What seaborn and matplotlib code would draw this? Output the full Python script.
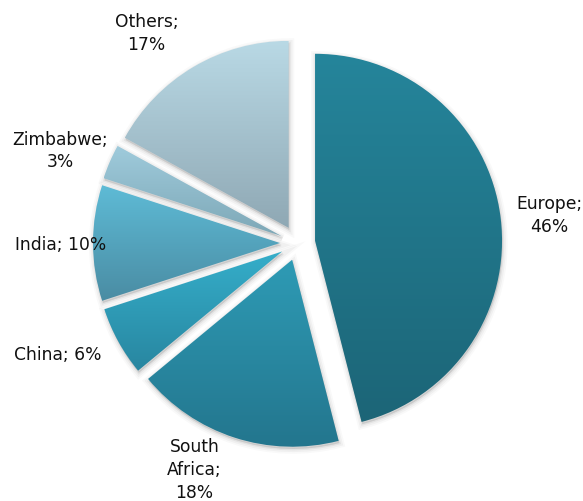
import numpy as np
import matplotlib
matplotlib.use("Agg")
import matplotlib.pyplot as plt
import matplotlib.colors as mcolors
from matplotlib.patches import Wedge
import seaborn as sns

# Destination shares (%)
regions = ["Europe", "South Africa", "China", "India", "Zimbabwe", "Others"]
shares = [46, 18, 6, 10, 3, 17]
label_texts = ["Europe;\n46%", "South\nAfrica;\n18%", "China; 6%", "India; 10%",
               "Zimbabwe;\n3%", "Others;\n17%"]

# Vertical gradient (top, bottom) for each slice
top_colors = ["#25859b", "#2e9bb5", "#35aeca", "#5ebbd6", "#9fcbdc", "#b9d9e5"]
bottom_colors = ["#1c6577", "#23758d", "#2886a0", "#4a8ca3", "#7ea8b7", "#8fa8b4"]

# Label anchor points (data units, pie radius = 1)
label_xy = [(1.345, 0.145), (-0.552, -1.215), (-1.282, -0.600),
            (-1.268, -0.012), (-1.268, 0.492), (-0.808, 1.118)]

sns.set_theme(style="white")
plt.rcParams["font.family"] = ["DejaVu Sans"]

fig = plt.figure(figsize=(5.83, 5.01), dpi=100)
ax = fig.add_axes([0, 0, 1, 1])
ax.set_axis_off()

explode = [0.094] * len(shares)
wedges, _ = ax.pie(shares, explode=explode, startangle=90, counterclock=False,
                   radius=1.0, wedgeprops=dict(facecolor="none", edgecolor="none"))

for w, c_top, c_bot in zip(wedges, top_colors, bottom_colors):
    cx, cy = w.center
    # soft drop shadow under the slice
    for lw, a in [(7, 0.025), (4.5, 0.035), (2, 0.05)]:
        sh = Wedge((cx + 0.004, cy - 0.012), w.r, w.theta1, w.theta2,
                   facecolor=(0, 0, 0, a), edgecolor=(0, 0, 0, a),
                   linewidth=lw, zorder=1)
        ax.add_patch(sh)
    # gradient fill clipped to the slice
    verts = w.get_patch_transform().transform(w.get_path().vertices)
    x0, y0 = verts.min(axis=0)
    x1, y1 = verts.max(axis=0)
    t = np.linspace(0, 1, 256)[:, None]
    ct = np.array(mcolors.to_rgb(c_top))
    cb = np.array(mcolors.to_rgb(c_bot))
    grad = (ct[None, :] * (1 - t) + cb[None, :] * t)[:, None, :]
    im = ax.imshow(grad, extent=[x0, x1, y0, y1], origin="upper",
                   aspect="auto", zorder=2, interpolation="bilinear")
    im.set_clip_path(w)

for txt, (lx, ly) in zip(label_texts, label_xy):
    ax.text(lx, ly, txt, ha="center", va="center", fontsize=12.3,
            color="#111111", linespacing=1.35, zorder=5)

cx_px, cy_px, r_px = 297.6, 243.0, 187.0
ax.set_xlim(-cx_px / r_px, (583 - cx_px) / r_px)
ax.set_ylim(-(501 - cy_px) / r_px, cy_px / r_px)
ax.set_aspect("equal")

fig.savefig("out.png", dpi=100)
